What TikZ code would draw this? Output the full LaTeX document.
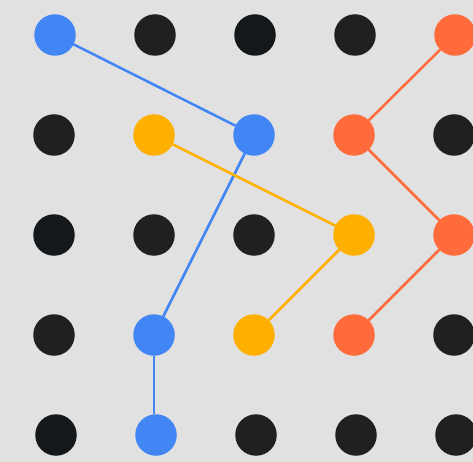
\documentclass[tikz,border=0pt]{standalone}
\definecolor{bg}{HTML}{E1E1E1}
\definecolor{dk}{HTML}{202022}
\definecolor{dkk}{HTML}{14181A}
\definecolor{gblue}{HTML}{4285F4}
\definecolor{gyel}{HTML}{FFAF00}
\definecolor{gorg}{HTML}{FF6B3B}
\begin{document}
\begin{tikzpicture}[x=1pt,y=-1pt,
  dot/.style={circle,minimum size=41.5pt,inner sep=0pt,outer sep=0pt,fill=#1},
  link/.style={draw=#1,line width=2.5pt}]
\fill[bg] (0,0) rectangle (473,462);
\useasboundingbox (0,0) rectangle (473,462);
% row 0
\node[dot=gblue] (a00) at (55,35) {};
\node[dot=dk] (a10) at (155,35) {};
\node[dot=dkk] (a20) at (255,35) {};
\node[dot=dk] (a30) at (355,35) {};
\node[dot=gorg] (a40) at (455,35) {};
% row 1
\node[dot=dk] (a01) at (54,135) {};
\node[dot=gyel] (a11) at (154,135) {};
\node[dot=gblue] (a21) at (254,135) {};
\node[dot=gorg] (a31) at (354,135) {};
\node[dot=dk] (a41) at (454,135) {};
% row 2
\node[dot=dkk] (a02) at (54,235) {};
\node[dot=dk] (a12) at (154,235) {};
\node[dot=dk] (a22) at (254,235) {};
\node[dot=gyel] (a32) at (354,235) {};
\node[dot=gorg] (a42) at (454,235) {};
% row 3
\node[dot=dk] (a03) at (54,335) {};
\node[dot=gblue] (a13) at (154,335) {};
\node[dot=gyel] (a23) at (254,335) {};
\node[dot=gorg] (a33) at (354,335) {};
\node[dot=dk] (a43) at (454,335) {};
% row 4
\node[dot=dkk] (a04) at (56,435) {};
\node[dot=gblue] (a14) at (156,435) {};
\node[dot=dk] (a24) at (256,435) {};
\node[dot=dk] (a34) at (356,435) {};
\node[dot=dk] (a44) at (456,435) {};
% links
\draw[link=gblue] (a00) -- (a21);
\draw[link=gblue] (a21) -- (a13);
\draw[link=gblue] (a13) -- (a13 |- a14.north);
\draw[link=gyel] (a11) -- (a32);
\draw[link=gyel] (a32) -- (a23);
\draw[link=gorg] (a40) -- (a31);
\draw[link=gorg] (a31) -- (a42);
\draw[link=gorg] (a42) -- (a33);
\end{tikzpicture}
\end{document}
